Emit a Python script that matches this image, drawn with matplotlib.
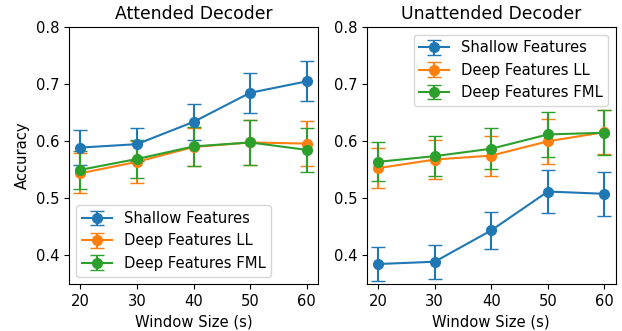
import numpy as np
import matplotlib
matplotlib.use("Agg")
import matplotlib.pyplot as plt

windows = [20, 30, 40, 50, 60]

# Attended decoder
att_shallow = [0.589, 0.595, 0.634, 0.685, 0.705]
att_shallow_err = [0.030, 0.029, 0.032, 0.035, 0.035]
att_ll = [0.544, 0.564, 0.590, 0.598, 0.596]
att_ll_err = [0.035, 0.037, 0.034, 0.039, 0.039]
att_fml = [0.550, 0.569, 0.591, 0.598, 0.585]
att_fml_err = [0.033, 0.034, 0.034, 0.039, 0.039]

# Unattended decoder
unatt_shallow = [0.385, 0.389, 0.444, 0.512, 0.508]
unatt_shallow_err = [0.029, 0.030, 0.032, 0.037, 0.038]
unatt_ll = [0.553, 0.568, 0.575, 0.600, 0.616]
unatt_ll_err = [0.035, 0.034, 0.035, 0.039, 0.038]
unatt_fml = [0.564, 0.574, 0.587, 0.612, 0.615]
unatt_fml_err = [0.034, 0.035, 0.036, 0.039, 0.039]

labels = ['Shallow Features', 'Deep Features LL', 'Deep Features FML']
colors = ['#1f77b4', '#ff7f0e', '#2ca02c']

plt.rcParams['font.size'] = 10.6

fig, axes = plt.subplots(1, 2, figsize=(6.22, 3.31), dpi=100)
fig.subplots_adjust(left=0.111, right=0.990, bottom=0.142, top=0.918, wspace=0.196)

panels = [
    ('Attended Decoder', [att_shallow, att_ll, att_fml],
     [att_shallow_err, att_ll_err, att_fml_err], 'lower left'),
    ('Unattended Decoder', [unatt_shallow, unatt_ll, unatt_fml],
     [unatt_shallow_err, unatt_ll_err, unatt_fml_err], 'upper right'),
]

for ax, (title, series, errs, loc) in zip(axes, panels):
    for vals, err, lab, c in zip(series, errs, labels, colors):
        ax.errorbar(windows, vals, yerr=err, fmt='-o', color=c, label=lab,
                    capsize=5, markersize=7)
    ax.set_title(title, fontsize=12.4)
    ax.set_xlabel('Window Size (s)')
    ax.set_ylim(0.35, 0.8)
    ax.set_xticks(windows)
    ax.set_yticks([0.4, 0.5, 0.6, 0.7, 0.8])
    ax.legend(loc=loc)

axes[0].set_ylabel('Accuracy')

plt.savefig('out.png', dpi=100)
